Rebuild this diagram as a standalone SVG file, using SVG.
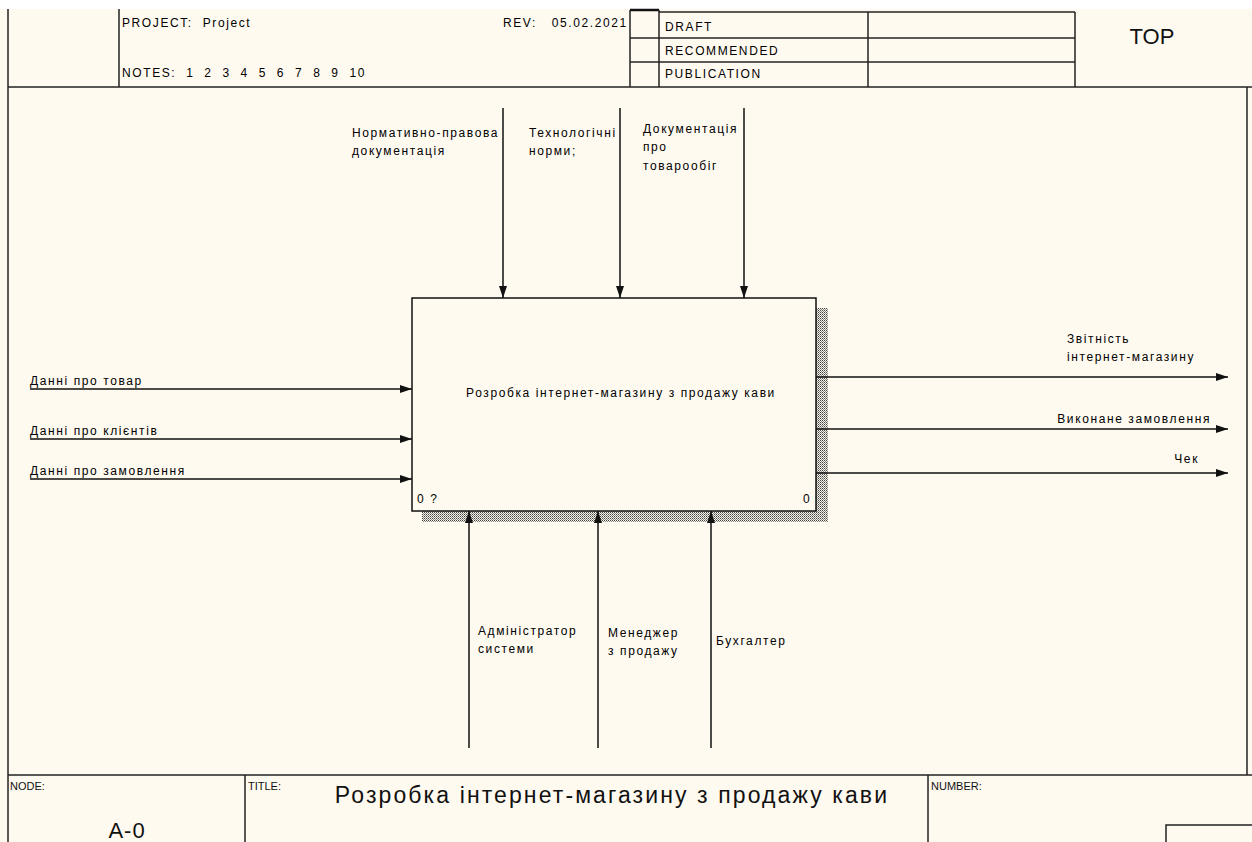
<svg xmlns="http://www.w3.org/2000/svg" width="1252" height="842" viewBox="0 0 1252 842">
<style>
.ln{stroke:#1a1a1a;stroke-width:1.5;fill:none}
.fr{stroke:#222;stroke-width:1.5;fill:none}
.t{font-family:"Liberation Sans",Arial,sans-serif;font-size:12px;fill:#000;letter-spacing:1.6px}
.h{font-family:"Liberation Sans",Arial,sans-serif;font-size:12px;fill:#000;letter-spacing:1.6px}
.s{font-family:"Liberation Sans",Arial,sans-serif;font-size:11px;fill:#111}
.a{stroke:#111;stroke-width:1.5;fill:none;marker-end:url(#ah)}
</style>
<defs>
<marker id="ah" viewBox="0 0 12 10" refX="12" refY="5" markerWidth="12" markerHeight="10" markerUnits="userSpaceOnUse" orient="auto">
<path d="M0,1 L12,5 L0,9 Z" fill="#111"/>
</marker>
<pattern id="hatch" width="2" height="2" patternUnits="userSpaceOnUse">
<rect width="2" height="2" fill="#f6f2e6"/>
<rect x="0" y="0" width="1" height="1" fill="#444"/>
<rect x="1" y="1" width="1" height="1" fill="#888"/>
</pattern>
</defs>
<rect x="0" y="0" width="1252" height="842" fill="#fffaf0"/>
<rect x="0" y="0" width="1252" height="9" fill="#ffffff"/>

<g id="header">
<line class="fr" x1="8" y1="9" x2="8" y2="842"/>
<line class="fr" x1="119" y1="9" x2="119" y2="87"/>
<line class="fr" x1="8" y1="87" x2="1252" y2="87"/>
<line x1="630" y1="10" x2="659" y2="10" stroke="#111" stroke-width="2.5"/>
<line class="fr" x1="630" y1="10" x2="630" y2="87"/>
<line class="fr" x1="659" y1="10" x2="659" y2="87"/>
<line class="fr" x1="659" y1="12" x2="1075" y2="12"/>
<line class="fr" x1="630" y1="38" x2="1075" y2="38"/>
<line class="fr" x1="630" y1="62" x2="1075" y2="62"/>
<line class="fr" x1="868" y1="12" x2="868" y2="87"/>
<line class="fr" x1="1075" y1="12" x2="1075" y2="87"/>
<text class="h" x="122" y="27" xml:space="preserve">PROJECT:  Project</text>
<text class="h" x="122" y="77" xml:space="preserve">NOTES:  1  2  3  4  5  6  7  8  9  10</text>
<text class="h" x="503" y="27" xml:space="preserve">REV:   05.02.2021</text>
<text class="h" x="665" y="31">DRAFT</text>
<text class="h" x="665" y="55">RECOMMENDED</text>
<text class="h" x="665" y="78">PUBLICATION</text>
<text x="1152" y="44" text-anchor="middle" font-family="Liberation Sans, Arial, sans-serif" font-size="22" fill="#111">TOP</text>
</g>

<g id="frame">
<line class="fr" x1="1247" y1="87" x2="1247" y2="775"/>
<line class="fr" x1="8" y1="775" x2="1252" y2="775"/>
</g>

<g id="footer">
<line class="fr" x1="245" y1="775" x2="245" y2="842"/>
<line class="fr" x1="928" y1="775" x2="928" y2="842"/>
<rect class="fr" x="1166" y="825" width="100" height="40"/>
<text class="s" x="10" y="790">NODE:</text>
<text class="s" x="248" y="790">TITLE:</text>
<text class="s" x="931" y="790">NUMBER:</text>
<text x="127" y="838" text-anchor="middle" font-family="Liberation Sans, Arial, sans-serif" font-size="22" letter-spacing="1" fill="#111">A-0</text>
<text x="612" y="803" text-anchor="middle" font-family="Liberation Sans, Arial, sans-serif" font-size="23" letter-spacing="2.1" fill="#111">Розробка інтернет-магазину з продажу кави</text>
</g>

<g id="node-A0">
<rect x="422" y="308" width="406" height="214" fill="url(#hatch)"/>
<rect x="412" y="298" width="404" height="213" fill="#fffaf0" stroke="#111" stroke-width="1.5"/>
<text class="t" x="621" y="397" text-anchor="middle">Розробка інтернет-магазину з продажу кави</text>
<text class="t" x="417" y="503">0 ?</text>
<text class="t" x="803" y="503">0</text>
</g>

<g id="connectors">
<line class="a" x1="503" y1="108" x2="503" y2="298"/>
<line class="a" x1="620" y1="108" x2="620" y2="298"/>
<line class="a" x1="744" y1="108" x2="744" y2="298"/>
<line class="a" x1="30" y1="389" x2="412" y2="389"/>
<line class="a" x1="30" y1="439" x2="412" y2="439"/>
<line class="a" x1="30" y1="479" x2="412" y2="479"/>
<line class="a" x1="816" y1="377" x2="1228" y2="377"/>
<line class="a" x1="816" y1="429" x2="1228" y2="429"/>
<line class="a" x1="816" y1="473" x2="1228" y2="473"/>
<line class="a" x1="469" y1="748" x2="469" y2="511"/>
<line class="a" x1="598" y1="748" x2="598" y2="511"/>
<line class="a" x1="711" y1="748" x2="711" y2="511"/>
</g>

<g id="labels">
<text class="t" x="352" y="137">Нормативно-правова</text>
<text class="t" x="352" y="155">документація</text>
<text class="t" x="529" y="137">Технологічні</text>
<text class="t" x="529" y="155">норми;</text>
<text class="t" x="643" y="133">Документація</text>
<text class="t" x="643" y="151">про</text>
<text class="t" x="643" y="170">товарообіг</text>
<text class="t" x="30" y="385">Данні про товар</text>
<text class="t" x="30" y="435">Данні про клієнтів</text>
<text class="t" x="30" y="475">Данні про замовлення</text>
<text class="t" x="1067" y="343">Звітність</text>
<text class="t" x="1067" y="361">інтернет-магазину</text>
<text class="t" x="1211" y="423" text-anchor="end">Виконане замовлення</text>
<text class="t" x="1199" y="463" text-anchor="end">Чек</text>
<text class="t" x="478" y="635">Адміністратор</text>
<text class="t" x="478" y="653">системи</text>
<text class="t" x="608" y="637">Менеджер</text>
<text class="t" x="608" y="655">з продажу</text>
<text class="t" x="716" y="645">Бухгалтер</text>
</g>
</svg>
